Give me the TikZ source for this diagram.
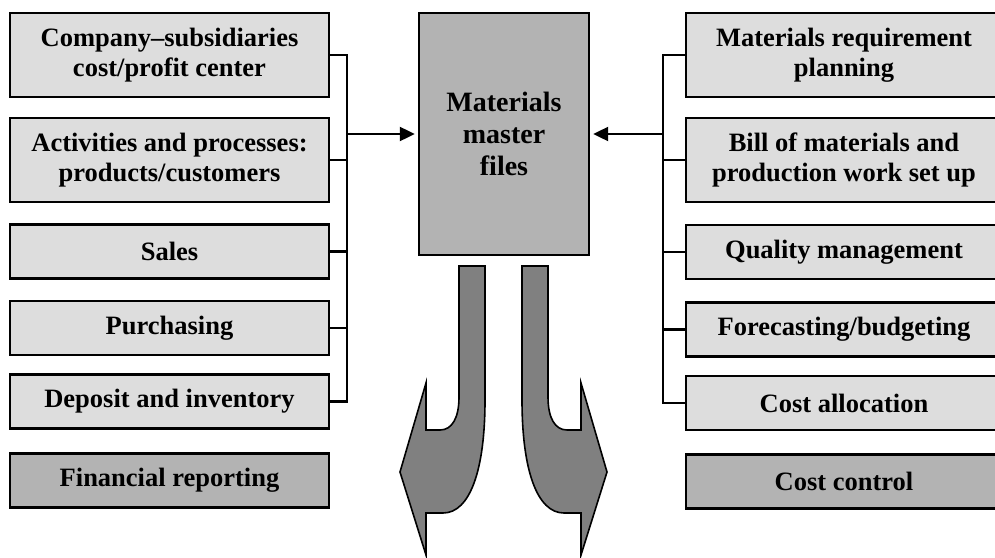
\documentclass[tikz,border=0pt]{standalone}
\usepackage{fontspec}
\setmainfont{Liberation Serif}
\usepackage{tikz}
\usetikzlibrary{arrows.meta}
\usepackage{xcolor}
\definecolor{boxfill}{HTML}{DDDDDD}
\definecolor{darkfill}{HTML}{B3B3B3}
\definecolor{arrowfill}{HTML}{808080}

\begin{document}
\begin{tikzpicture}[x=1pt, y=-1pt,
  box/.style={draw, line width=2.4pt, fill=boxfill, minimum width=319pt, minimum height=54pt,
    align=center, inner sep=2pt, font=\bfseries\fontsize{26.5}{29.5}\selectfont},
  tall/.style={minimum height=84pt},
  rbox/.style={box, minimum width=316pt},
  bus/.style={line width=2.2pt, line cap=rect},
  msg/.style={-{Triangle[length=15pt, width=14pt]}, line width=2.2pt, shorten >=3pt},
  bendarrow/.style={draw=black, line width=1.6pt, fill=arrowfill, line join=miter}
]
\useasboundingbox (0,0) rectangle (995,557);

% left column
\node[box, tall] (lcomp) at (169.5,55) {Company--subsidiaries\\cost/profit center};
\node[box, tall] (lact) at (169.5,160) {Activities and processes:\\products/customers};
\node[box] (lsales) at (169.5,251.5) {Sales};
\node[box] (lpurch) at (169.5,328) {Purchasing};
\node[box] (ldep) at (169.5,401.5) {Deposit and inventory};
\node[box, fill=darkfill] (lfin) at (169.5,480.5) {Financial reporting};

% right column
\node[rbox, tall] (rmrp) at (844,55) {Materials requirement\\planning};
\node[rbox, tall] (rbom) at (844,160) {Bill of materials and\\production work set up};
\node[rbox] (rqual) at (844,252) {Quality management};
\node[rbox] (rfore) at (844,329.5) {Forecasting/budgeting};
\node[rbox] (ralloc) at (844,403) {Cost allocation};
\node[rbox, fill=darkfill] (rctrl) at (844,481.5) {Cost control};

% centre
\node[draw, line width=2.4pt, fill=darkfill, minimum width=170pt, minimum height=242pt,
  align=center, font=\bfseries\fontsize{28}{32}\selectfont] (mmf) at (504,134) {Materials\\master\\files};

% brackets
\coordinate (lbus) at (347,0);
\coordinate (rbus) at (663,0);
\foreach \n in {lcomp,lact,lsales,lpurch,ldep}
  \draw[bus] (\n.east) -- (\n.east -| lbus);
\foreach \n in {rmrp,rbom,rqual,rfore,ralloc}
  \draw[bus] (\n.west) -- (\n.west -| rbus);
\draw[bus] (lcomp.east -| lbus) -- (ldep.east -| lbus);
\draw[bus] (rmrp.west -| rbus) -- (ralloc.west -| rbus);
\draw[msg] (lbus |- mmf.west) -- (mmf.west);
\draw[msg] (rbus |- mmf.east) -- (mmf.east);

% bent arrows
\foreach \s in {1,-1}
  \draw[bendarrow, shift={(503.5,0)}, xscale=\s] (-44.5,266) -- (-18.5,266) -- (-18.5,400)
    .. controls (-18.5,470) and (-33.5,513) .. (-60.5,513) -- (-77.5,513) -- (-77.5,555)
    -- (-103.5,472) -- (-77.5,383) -- (-77.5,430) -- (-63.5,430)
    .. controls (-51.5,430) and (-44.5,418) .. (-44.5,397) -- cycle;
\end{tikzpicture}
\end{document}
